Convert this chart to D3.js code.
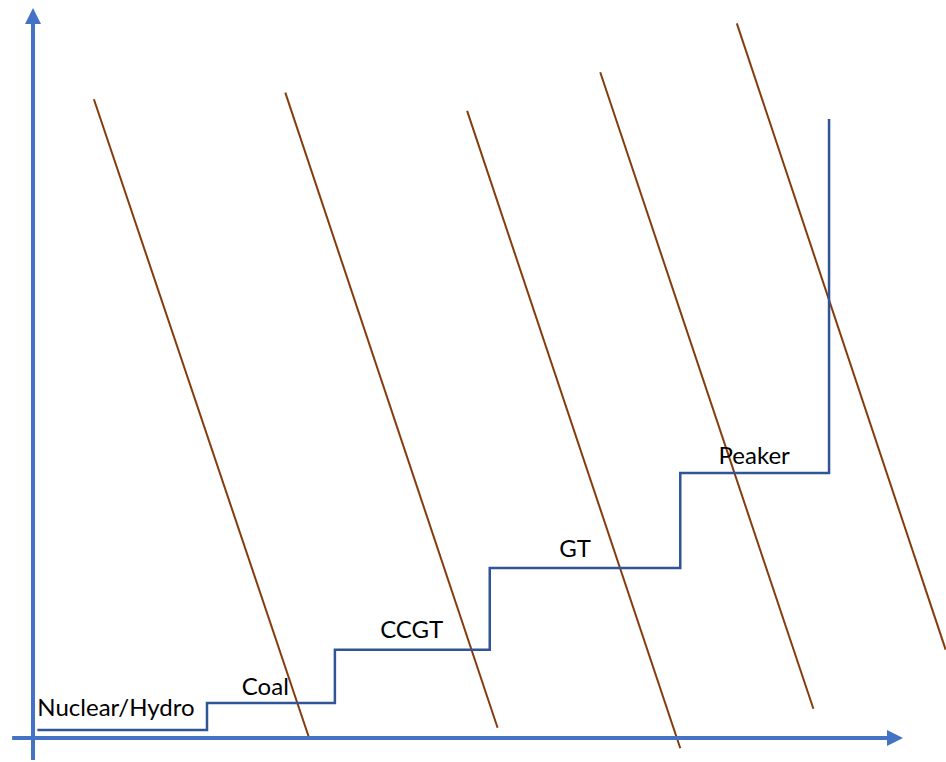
<!DOCTYPE html>
<html>
<head>
<meta charset="utf-8">
<script src="https://cdn.jsdelivr.net/npm/d3@7"></script>
<style>
html,body{margin:0;padding:0;background:#fff;}
svg{display:block;}
</style>
</head>
<body>
<svg id="chart" width="946" height="762"></svg>
<script>
// Supply stack (merit order) : block boundaries along quantity axis and price levels
const stepEdges = [0.5, 20, 34.7, 52.5, 74.4, 91.5];
const stepLevels = [1.1, 4.8, 12.1, 23.3, 36.3];
const stepTop = 84.8;
const categories = ["Nuclear/Hydro", "Coal", "CCGT", "GT", "Peaker"];
const labelX = [0.5, 24.0, 39.9, 60.5, 78.8];
const labelY = [3.0, 5.9, 13.7, 24.8, 37.6];
// Demand curves: start (x0,y0) to end (x1,y1)
const demandX0 = [7.0, 29.0, 49.9, 65.2, 80.9];
const demandY0 = [87.5, 88.4, 85.9, 91.2, 97.9];
const demandX1 = [31.7, 53.4, 74.4, 89.7, 104.9];
const demandY1 = [0.14, 1.4, -1.4, 4.0, 12.1];
// axis extents
const xAxisExtent = [-2.4, 100];
const yAxisExtent = [-3, 100];

const svg = d3.select("#chart");
const x = d3.scaleLinear().domain([0, 100]).range([33, 903]);
const y = d3.scaleLinear().domain([0, 100]).range([738, 8]);

const axisColor = "#4472C4";
const stepColor = "#2F5597";
const demandColor = "#843C0C";

// demand lines
svg.append("g").selectAll("line").data(demandX0).join("line")
  .attr("x1", (d, i) => x(demandX0[i]))
  .attr("y1", (d, i) => y(demandY0[i]))
  .attr("x2", (d, i) => x(demandX1[i]))
  .attr("y2", (d, i) => y(demandY1[i]))
  .attr("stroke", demandColor)
  .attr("stroke-width", 2);

// supply step
const pts = [];
pts.push([stepEdges[0], stepLevels[0]]);
for (let i = 0; i < stepLevels.length; i++) {
  pts.push([stepEdges[i + 1], stepLevels[i]]);
  if (i + 1 < stepLevels.length) pts.push([stepEdges[i + 1], stepLevels[i + 1]]);
}
pts.push([stepEdges[stepEdges.length - 1], stepTop]);
svg.append("path")
  .attr("d", d3.line().x(d => x(d[0])).y(d => y(d[1]))(pts))
  .attr("fill", "none")
  .attr("stroke", stepColor)
  .attr("stroke-width", 2.5);

// labels
svg.append("g").selectAll("text").data(categories).join("text")
  .attr("x", (d, i) => x(labelX[i]))
  .attr("y", (d, i) => y(labelY[i]))
  .attr("font-family", "Lato, 'Noto Sans', sans-serif")
  .attr("font-size", 24)
  .attr("fill", "#000")
  .text(d => d);

// axes
const defs = svg.append("defs");
defs.append("marker").attr("id", "arrow")
  .attr("viewBox", "0 0 10 10").attr("refX", 0).attr("refY", 5)
  .attr("markerWidth", 4).attr("markerHeight", 4)
  .attr("markerUnits", "strokeWidth")
  .attr("orient", "auto")
  .append("path").attr("d", "M0,0 L10,5 L0,10 Z").attr("fill", axisColor);

svg.append("line")
  .attr("x1", x(xAxisExtent[0])).attr("y1", y(0))
  .attr("x2", x(xAxisExtent[1]) - 16).attr("y2", y(0))
  .attr("stroke", axisColor).attr("stroke-width", 4)
  .attr("marker-end", "url(#arrow)");
svg.append("line")
  .attr("x1", x(0)).attr("y1", y(yAxisExtent[0]))
  .attr("x2", x(0)).attr("y2", y(yAxisExtent[1]) + 16)
  .attr("stroke", axisColor).attr("stroke-width", 4)
  .attr("marker-end", "url(#arrow)");
</script>
</body>
</html>
